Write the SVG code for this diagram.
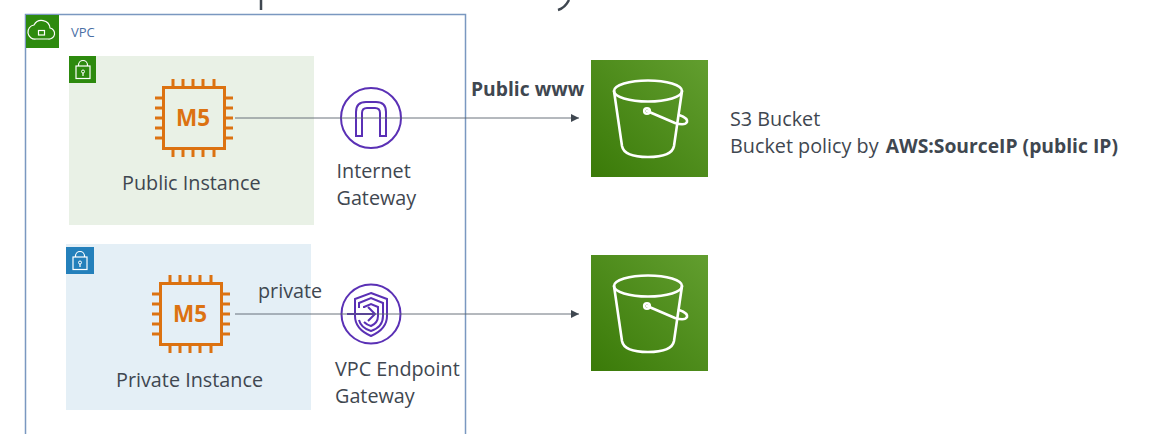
<svg xmlns="http://www.w3.org/2000/svg" width="1173" height="434" viewBox="0 0 1173 434">
<style>
text{font-family:"Open Sans","Noto Sans","Liberation Sans",sans-serif;fill:#3f4750;font-size:19.8px}
.b{font-weight:700;font-size:19.3px}
.chip{fill:none;stroke:#dc7211;stroke-width:3}
.m5{font-family:"Open Sans","Liberation Sans",sans-serif;font-weight:700;font-size:22.5px;fill:#dc7211;text-anchor:middle}
.pu{fill:none;stroke:#5a30b5;stroke-width:2}
.wh{fill:none;stroke:#fff;stroke-width:1.200}
.bk{fill:none;stroke:#fff;stroke-width:2.600;stroke-linejoin:round;stroke-linecap:round}
.conn{fill:none;stroke:#59626d;stroke-width:.9;marker-end:url(#arr)}
</style>
<defs>
<marker id="arr" markerUnits="userSpaceOnUse" markerWidth="9" markerHeight="9" refX="8" refY="4" orient="auto"><path d="M0 0L8 4L0 8Z" fill="#3f4750"/></marker>
<linearGradient id="g" x1="0" y1="1" x2="1" y2="0"><stop offset="0" stop-color="#3a7a08"/><stop offset="1" stop-color="#629e2f"/></linearGradient>
<g id="chip">
<rect class="chip" x="-30.500" y="-30.500" width="61" height="61"/>
<path class="chip" d="M-21-31v-8M-11-31v-8M-1-31v-8M9-31v-8M20-31v-8M-21 31v8M-11 31v8M-1 31v8M9 31v8M20 31v8M-39-20h8M-39-10h8M-39 0h8M-39 10h8M-39 20h8M31-20h8M31-10h8M31 0h8M31 10h8M31 20h8"/>
<text class="m5" x="-1" y="8">M5</text>
</g>
<g id="lock">
<rect class="wh" x="-7" y="-4" width="14" height="12.500"/>
<path class="wh" d="M-4.500-4v-1a4.500 4.500 0 0 1 9 0v1"/>
<circle cx="0" cy="1.500" r="1.500" fill="none" stroke="#fff"/>
<path class="wh" d="M0 3v3"/>
</g>
<g id="bucket">
<ellipse class="bk" cx="0" cy="0" rx="34" ry="10.500"/>
<path class="bk" d="M-34 0L-26 55Q-24 66 0 66Q24 66 26 55L34 0"/>
<circle cx="-1" cy="20" r="2.800" class="bk"/>
<path class="bk" d="M-1 20L27 32Q37 35 39 31Q40 27 31 24"/>
</g>
</defs>
<path d="M261 0V10M569 0Q565 8 558 10" fill="none" stroke="#3f4750" stroke-width="2.500"/>
<g id="vpc">
<rect x="25.500" y="14.500" width="440" height="430" fill="#fff" stroke="#7a98c0" stroke-width="1.500"/>
<rect x="26" y="15" width="33" height="33" fill="#2d8a0e"/>
<path class="wh" d="M36 39H48a5.500 5.500 0 0 0 2-11a8.500 8.500 0 0 0-16-3a7 7 0 0 0 2 14Z"/>
<rect class="wh" x="38.500" y="30.500" width="6" height="4.500"/>
<text x="71" y="37" style="font-size:13px;fill:#4a6fa5">VPC</text>
</g>
<g id="public-subnet">
<rect x="69" y="56" width="245" height="169" fill="#e9f1e6"/>
<rect x="69" y="56" width="27" height="27" fill="#2d8a0e"/>
<use href="#lock" x="83" y="70"/>
</g>
<g id="private-subnet">
<rect x="66" y="244" width="245" height="166" fill="#e4eff6"/>
<rect x="66" y="247" width="28" height="27" fill="#2480bb"/>
<use href="#lock" x="80" y="261"/>
</g>
<g id="public-instance">
<use href="#chip" x="194" y="118"/>
<text x="122" y="190">Public Instance</text>
</g>
<g id="private-instance">
<use href="#chip" x="191" y="314"/>
<text x="116" y="387">Private Instance</text>
<text x="258" y="298">private</text>
</g>
<g id="internet-gateway">
<circle class="pu" cx="371" cy="118" r="30" stroke-width="2.200"/>
<path class="pu" d="M356 136V112Q356 102 366 102H376Q386 102 386 112V136H380V113Q380 108 375 108H367Q362 108 362 113V136Z"/>
<text x="336.500" y="178">Internet</text>
<text x="336.500" y="205">Gateway</text>
</g>
<g id="vpc-endpoint-gateway">
<circle class="pu" cx="371" cy="314" r="29.500"/>
<path class="pu" d="M371 293L387 299V316Q387 329 371 336Q355 329 355 316V299Z"/>
<path class="pu" d="M359 320Q361 328 371 331Q383 327 383 316V303L371 298L359 303V308"/>
<path class="pu" d="M364 322Q367 325 371 326Q378 323 378 316V307L371 304L364 307V308"/>
<path class="pu" stroke-width="2.600" d="M347 314H374M368 307L375 314L368 321"/>
<text x="335" y="376">VPC Endpoint</text>
<text x="335" y="403">Gateway</text>
</g>
<g id="s3-public">
<rect x="591" y="60" width="117" height="117" fill="url(#g)"/>
<use href="#bucket" x="648" y="91"/>
</g>
<g id="s3-private">
<rect x="591" y="255" width="117" height="116" fill="url(#g)"/>
<use href="#bucket" x="648" y="286"/>
</g>
<g id="labels">
<text class="b" x="471" y="96">Public www</text>
<text x="730" y="126">S3 Bucket</text>
<text x="730" y="153">Bucket policy by <tspan class="b" dx="2">AWS:SourceIP (public IP)</tspan></text>
</g>
<g id="connectors">
<path class="conn" d="M235 118H579"/>
<path class="conn" d="M235 314H579"/>
</g>
</svg>
